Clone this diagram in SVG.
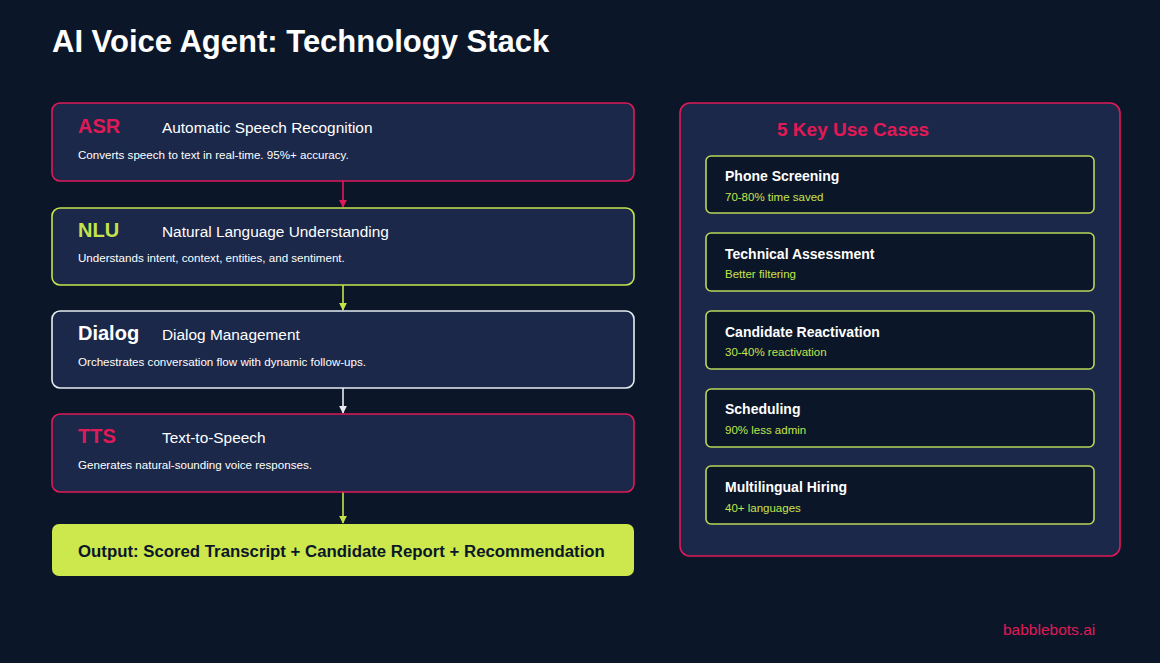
<svg xmlns="http://www.w3.org/2000/svg" width="1160" height="663" viewBox="0 0 1160 663">
<defs>
<style>
text{font-family:"Liberation Sans",Arial,sans-serif}
.box{fill:#1b2849;stroke-width:1.6}
.red{stroke:#e01a57}
.grn{stroke:#c5e44c}
.wht{stroke:#e8ecf2}
.abbr{font-size:20px;font-weight:bold}
.ttl{font-size:15.4px;fill:#ffffff}
.desc{font-size:11.6px;fill:#ffffff}
.card{fill:#0b1628;stroke:#b9d65a;stroke-width:1.6}
.ct{font-size:14px;font-weight:bold;fill:#ffffff}
.cs{font-size:11.5px;fill:#c5e44c}
.conn{stroke-width:1.6;fill:none}
</style>
<marker id="aR" viewBox="0 0 10 10" refX="9" refY="5" markerWidth="5" markerHeight="5" orient="auto"><path d="M0,0 L10,5 L0,10 z" fill="#e01a57"/></marker>
<marker id="aG" viewBox="0 0 10 10" refX="9" refY="5" markerWidth="5" markerHeight="5" orient="auto"><path d="M0,0 L10,5 L0,10 z" fill="#c5e44c"/></marker>
<marker id="aW" viewBox="0 0 10 10" refX="9" refY="5" markerWidth="5" markerHeight="5" orient="auto"><path d="M0,0 L10,5 L0,10 z" fill="#e8ecf2"/></marker>
</defs>
<rect width="1160" height="663" fill="#0b1628"/>
<text x="52" y="52" font-size="31" font-weight="bold" fill="#ffffff">AI Voice Agent: Technology Stack</text>

<g id="connectors">
<line class="conn" x1="343" y1="181" x2="343" y2="207" stroke="#e01a57" marker-end="url(#aR)"/>
<line class="conn" x1="343" y1="285" x2="343" y2="310" stroke="#c5e44c" marker-end="url(#aG)"/>
<line class="conn" x1="343" y1="388" x2="343" y2="413" stroke="#e8ecf2" marker-end="url(#aW)"/>
<line class="conn" x1="343" y1="492" x2="343" y2="523" stroke="#c5e44c" marker-end="url(#aG)"/>
</g>

<g id="asr">
<rect class="box red" x="52" y="103" width="582" height="78" rx="8"/>
<text class="abbr" x="78" y="133" fill="#e01a57">ASR</text>
<text class="ttl" x="162" y="133">Automatic Speech Recognition</text>
<text class="desc" x="78" y="159">Converts speech to text in real-time. 95%+ accuracy.</text>
</g>
<g id="nlu">
<rect class="box grn" x="52" y="208" width="582" height="77" rx="8"/>
<text class="abbr" x="78" y="237" fill="#c5e44c">NLU</text>
<text class="ttl" x="162" y="237">Natural Language Understanding</text>
<text class="desc" x="78" y="262">Understands intent, context, entities, and sentiment.</text>
</g>
<g id="dialog">
<rect class="box wht" x="52" y="311" width="582" height="77" rx="8"/>
<text class="abbr" x="78" y="340" fill="#ffffff">Dialog</text>
<text class="ttl" x="162" y="340">Dialog Management</text>
<text class="desc" x="78" y="366">Orchestrates conversation flow with dynamic follow-ups.</text>
</g>
<g id="tts">
<rect class="box red" x="52" y="414" width="582" height="78" rx="8"/>
<text class="abbr" x="78" y="443" fill="#e01a57">TTS</text>
<text class="ttl" x="162" y="443">Text-to-Speech</text>
<text class="desc" x="78" y="469">Generates natural-sounding voice responses.</text>
</g>
<g id="output">
<rect x="52" y="524" width="582" height="52" rx="7" fill="#cce84c"/>
<text x="78" y="557" font-size="16.8" font-weight="bold" fill="#0b1628">Output: Scored Transcript + Candidate Report + Recommendation</text>
</g>

<g id="usecases">
<rect class="box red" x="680" y="103" width="440" height="453" rx="10"/>
<text x="777" y="136" font-size="19" font-weight="bold" fill="#e01a57">5 Key Use Cases</text>
</g>
<g id="uc1">
<rect class="card" x="706" y="156" width="388" height="57" rx="5"/>
<text class="ct" x="725" y="181">Phone Screening</text>
<text class="cs" x="725" y="201">70-80% time saved</text>
</g>
<g id="uc2">
<rect class="card" x="706" y="233" width="388" height="58" rx="5"/>
<text class="ct" x="725" y="259">Technical Assessment</text>
<text class="cs" x="725" y="278">Better filtering</text>
</g>
<g id="uc3">
<rect class="card" x="706" y="311" width="388" height="58" rx="5"/>
<text class="ct" x="725" y="337">Candidate Reactivation</text>
<text class="cs" x="725" y="356">30-40% reactivation</text>
</g>
<g id="uc4">
<rect class="card" x="706" y="389" width="388" height="58" rx="5"/>
<text class="ct" x="725" y="414">Scheduling</text>
<text class="cs" x="725" y="434">90% less admin</text>
</g>
<g id="uc5">
<rect class="card" x="706" y="466" width="388" height="58" rx="5"/>
<text class="ct" x="725" y="492">Multilingual Hiring</text>
<text class="cs" x="725" y="512">40+ languages</text>
</g>

<text x="1003" y="635" font-size="15.5" fill="#e01a57">babblebots.ai</text>
</svg>
